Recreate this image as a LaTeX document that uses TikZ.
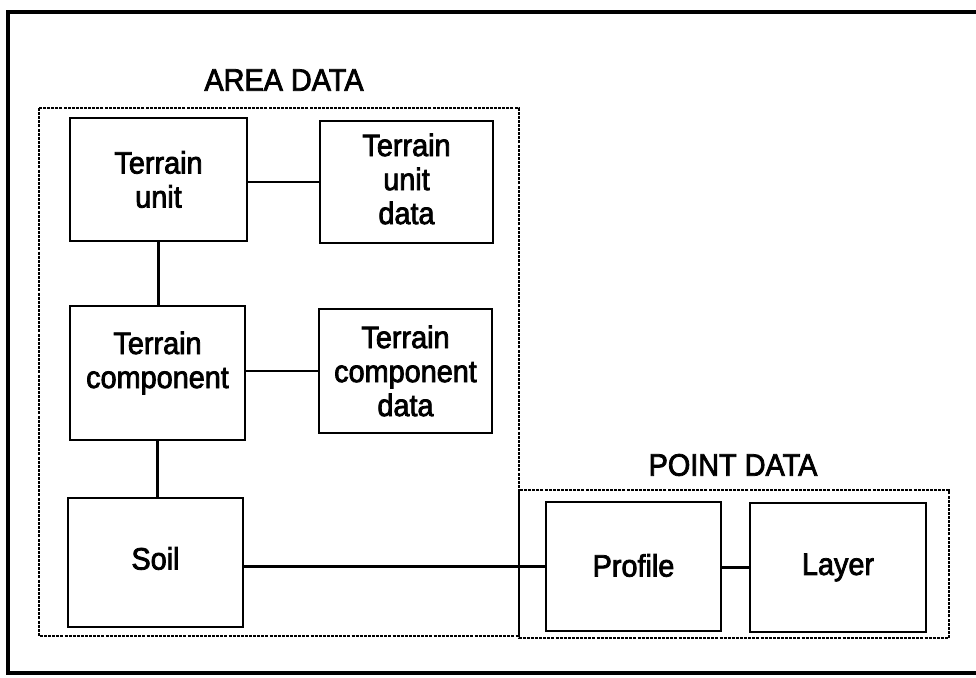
\documentclass[tikz,border=0pt]{standalone}
\usepackage{fontspec}
\setmainfont{Liberation Sans}[FakeStretch=0.93,FakeBold=2.5]
\usetikzlibrary{calc}

\begin{document}
\begin{tikzpicture}[x=1pt,y=-1pt,
  frame/.style={draw=black,line width=3.4pt},
  group/.style={draw=black,line width=1.8pt,dash pattern=on 3pt off 1.1pt},
  box/.style={draw=black,line width=2.5pt,inner sep=0pt},
  link/.style={draw=black,line width=2.3pt},
  lbl/.style={align=center,inner sep=0pt,font=\fontsize{31}{34}\selectfont},
  title/.style={inner sep=0pt,font=\fontsize{31}{34}\selectfont}]
\useasboundingbox (0,0) rectangle (976,677);
\clip (0,0) rectangle (976,677);
\draw[frame] (8,12) rectangle (990,673);
% the two dotted groups share one edge
\draw[group] (39,108) rectangle (519,636);
\draw[group] (519,490) rectangle (949,638);
\node[title] (area) at (284,80) {AREA DATA};
\node[title] (point) at (733,465) {POINT DATA};
% boxes
\node[box,minimum width=177,minimum height=123] (tu) at (158.5,179.5) {};
\node[box,minimum width=173,minimum height=122] (tud) at (406.5,182) {};
\node[box,minimum width=175,minimum height=134] (tc) at (157.5,373) {};
\node[box,minimum width=173,minimum height=124] (tcd) at (405.5,371) {};
\node[box,minimum width=175,minimum height=129] (soil) at (155.5,562.5) {};
\node[box,minimum width=175,minimum height=129] (prof) at (633.5,566.5) {};
\node[box,minimum width=176,minimum height=129] (layer) at (838,567.5) {};
% texts sit a little above the middle
\node[lbl] (tu-t) at (tu.center) {Terrain\\unit};
\node[lbl] (tud-t) at ([yshift=3pt]tud.center) {Terrain\\unit\\data};
\node[lbl] (tc-t) at ([yshift=10pt]tc.center) {Terrain\\component};
\node[lbl] (tcd-t) at (tcd.center) {Terrain\\component\\data};
\node[lbl] (soil-t) at ([yshift=4pt]soil.center) {Soil};
\node[lbl] (prof-t) at ([yshift=1pt]prof.center) {Profile};
\node[lbl] (layer-t) at (layer.center) {Layer};
% links
\draw[link] (tu.east |- tud) -- (tud.west);
\draw[link] (tc.east |- tcd) -- (tcd.west);
\draw[link] (tu.south) -- (tu.south |- tc.north);
\draw[link] (tc.south) -- (tc.south |- soil.north);
\draw[link] (soil.east |- prof) -- (prof.west);
\draw[link] (prof.east |- layer) -- (layer.west);
\end{tikzpicture}
\end{document}
